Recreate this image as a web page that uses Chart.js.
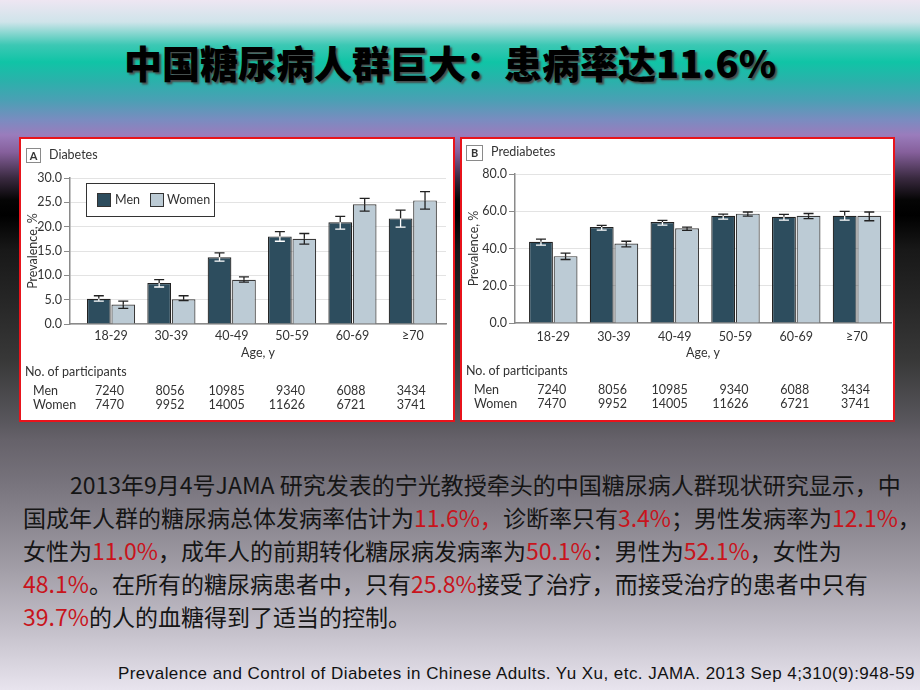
<!DOCTYPE html>
<html>
<head>
<meta charset="utf-8">
<script src="https://cdn.jsdelivr.net/npm/chart.js@4.4.0/dist/chart.umd.min.js"></script>
<style>
html, body { margin: 0; padding: 0; }
body {
    width: 920px; height: 690px; position: relative; overflow: hidden;
    background: linear-gradient(to bottom, #eee6f2 0px, #cfe4ea 22px, #3cc8b4 45px, #10c4a6 62px, #2cb0ab 82px,
        #4aa0b4 100px, #7a8cc0 120px, #9a7cbc 135px, #86609c 152px, #3a2a40 178px, #050505 200px, #000 215px,
        #181818 250px, #262626 300px, #383838 360px, #58565c 420px, #66626a 440px, #76727b 480px,
        #9d99a2 560px, #c4c0ca 630px, #e8e4ee 690px);
    font-family: Lato, sans-serif;
}
.title {
    position: absolute; left: 124px; top: 43px; white-space: nowrap;
    font-family: "Noto Sans CJK SC", sans-serif; font-weight: 900; font-size: 38px; line-height: 38px;
    color: #000; text-shadow: 2px 2px 2px #4a4a4a;
}
.panel { position: absolute; top: 137px; height: 281px; border: 2px solid #e8131b; background: #fff; }
.panel canvas { position: absolute; left: 0; top: 0; }
.tag {
    position: absolute; border: 1px solid #8a8a8a; box-sizing: border-box;
    font-size: 11px; font-weight: 700; color: #333; text-align: center;
}
.ptitle { position: absolute; font-size: 12.5px; color: #333; line-height: 14px; }
.legend {
    position: absolute; left: 65px; top: 44px; width: 129px; height: 34px; box-sizing: border-box;
    border: 1.5px solid #333; background: #fff; font-size: 12.5px; color: #333;
}
.legend .sw { position: absolute; top: 9px; width: 14px; height: 14px; box-sizing: border-box; border: 1px solid #333; }
.legend .lb { position: absolute; top: 8px; line-height: 15px; }
.para {
    position: absolute; left: 23px; top: 468px; white-space: nowrap;
    font-family: "Noto Sans CJK SC", sans-serif; font-size: 23px; line-height: 33px; color: #151515;
}
.para .r { color: #c8141c; }
.cite {
    position: absolute; right: 5px; top: 664px; white-space: nowrap;
    font-family: "Liberation Sans", Arial, sans-serif; font-size: 17px; letter-spacing: 0.45px;
    line-height: 20px; color: #111;
}
</style>
</head>
<body>

<div class="title">中国糖尿病人群巨大：患病率达11.6%</div>

<div class="panel" style="left:19px; width:432px;">
    <canvas id="diab" width="432" height="281"></canvas>
    <div class="tag" style="left:5px; top:9px; width:15px; height:15px; line-height:13px;">A</div>
    <div class="ptitle" style="left:28px; top:9px;">Diabetes</div>
    <div class="legend">
        <div class="sw" style="left:10px; background:#2d4d5e;"></div>
        <div class="lb" style="left:28px;">Men</div>
        <div class="sw" style="left:63px; background:#bccbd5;"></div>
        <div class="lb" style="left:80px;">Women</div>
    </div>
</div>

<div class="panel" style="left:460px; width:431px;">
    <canvas id="prediab" width="431" height="281"></canvas>
    <div class="tag" style="left:4px; top:6px; width:17px; height:16px; line-height:14px;">B</div>
    <div class="ptitle" style="left:29px; top:6px;">Prediabetes</div>
</div>

<div class="para">
    <span style="padding-left:47px"></span>2013年9月4号JAMA 研究发表的宁光教授牵头的中国糖尿病人群现状研究显示，中<br>
    国成年人群的糖尿病总体发病率估计为<span class="r">11.6%，</span>诊断率只有<span class="r">3.4%</span>；男性发病率为<span class="r">12.1%</span>，<br>
    女性为<span class="r">11.0%</span>，成年人的前期转化糖尿病发病率为<span class="r">50.1%</span>：男性为<span class="r">52.1%</span>，女性为<br>
    <span class="r">48.1%</span>。在所有的糖尿病患者中，只有<span class="r">25.8%</span>接受了治疗，而接受治疗的患者中只有<br>
    <span class="r">39.7%</span>的人的血糖得到了适当的控制。
</div>

<div class="cite">Prevalence and Control of Diabetes in Chinese Adults. Yu Xu, etc. JAMA. 2013 Sep 4;310(9):948-59</div>

<script>
const ageGroups = ['18-29', '30-39', '40-49', '50-59', '60-69', '≥70'];
const menCounts = [7240, 8056, 10985, 9340, 6088, 3434];
const womenCounts = [7470, 9952, 14005, 11626, 6721, 3741];

// panel A - diabetes prevalence (%)
const diabMen = [5.2, 8.4, 13.7, 18.0, 20.9, 21.7];
const diabMenLo = [4.7, 7.6, 12.9, 17.0, 19.5, 19.9];
const diabMenHi = [5.8, 9.1, 14.6, 19.0, 22.1, 23.4];
const diabWomen = [4.0, 5.1, 9.1, 17.5, 24.6, 25.4];
const diabWomenLo = [3.2, 4.8, 8.6, 16.4, 23.2, 23.6];
const diabWomenHi = [4.7, 5.8, 9.7, 18.6, 25.8, 27.2];

// panel B - prediabetes prevalence (%)
const preMen = [43.6, 51.5, 54.2, 57.6, 57.0, 57.6];
const preMenLo = [41.8, 49.9, 52.6, 55.8, 55.2, 55.2];
const preMenHi = [45.0, 52.4, 55.1, 58.5, 58.3, 59.9];
const preWomen = [35.9, 42.7, 50.9, 58.7, 57.6, 57.6];
const preWomenLo = [34.1, 40.9, 49.7, 57.4, 56.0, 54.9];
const preWomenHi = [37.5, 43.9, 51.5, 59.6, 58.8, 59.6];

const textColor = '#333';

// whiskers; on the dark bars the part inside the bar is drawn white
const errorBars = {
    id: 'errorBars',
    afterDatasetsDraw(chart) {
        const ctx = chart.ctx;
        const y = chart.scales.y;
        chart.data.datasets.forEach((ds, di) => {
            const meta = chart.getDatasetMeta(di);
            meta.data.forEach((bar, i) => {
                const top = y.getPixelForValue(ds.errHi[i]);
                const bot = y.getPixelForValue(ds.errLo[i]);
                const x = bar.x;
                const w = 5;
                ctx.save();
                ctx.lineWidth = 1.3;
                ctx.strokeStyle = '#222';
                ctx.beginPath();
                ctx.moveTo(x, top); ctx.lineTo(x, Math.min(bar.y, bot));
                ctx.moveTo(x - w, top); ctx.lineTo(x + w, top);
                ctx.stroke();
                ctx.strokeStyle = ds.innerWhisker;
                ctx.beginPath();
                ctx.moveTo(x, bar.y); ctx.lineTo(x, bot);
                ctx.moveTo(x - w, bot); ctx.lineTo(x + w, bot);
                ctx.stroke();
                ctx.restore();
            });
        });
    }
};

// the "No. of participants" table under each panel
const participants = {
    id: 'participants',
    afterDraw(chart) {
        const ctx = chart.ctx;
        const xs = chart.scales.x;
        const b = chart.chartArea.bottom;
        ctx.save();
        ctx.fillStyle = textColor;
        ctx.textBaseline = 'middle';
        ctx.font = '12.5px Lato';
        ctx.textAlign = 'left';
        ctx.fillText('No. of participants', 4, b + 48);
        ctx.fillText('Men', 12, b + 67);
        ctx.fillText('Women', 12, b + 81);
        ctx.textAlign = 'right';
        ageGroups.forEach((g, i) => {
            const px = xs.getPixelForValue(i) + 13;
            ctx.fillText(String(menCounts[i]), px, b + 67);
            ctx.fillText(String(womenCounts[i]), px, b + 81);
        });
        ctx.restore();
    }
};

function makePanel(id, men, menLo, menHi, women, womenLo, womenHi, yMax, yStep, lay) {
    const ctx = document.getElementById(id).getContext('2d');
    return new Chart(ctx, {
        type: 'bar',
        data: {
            datasets: [{
                label: 'Men',
                data: men.map((v, i) => ({ x: i, y: v })),
                errLo: menLo, errHi: menHi,
                innerWhisker: '#ffffff',
                backgroundColor: '#2d4d5e',
                borderColor: '#222',
                borderWidth: 1.2,
                categoryPercentage: 0.81,
                barPercentage: 0.97
            }, {
                label: 'Women',
                data: women.map((v, i) => ({ x: i, y: v })),
                errLo: womenLo, errHi: womenHi,
                innerWhisker: '#222',
                backgroundColor: '#bccbd5',
                borderColor: '#3a3a3a',
                borderWidth: 1.2,
                categoryPercentage: 0.81,
                barPercentage: 0.97
            }]
        },
        options: {
            responsive: false,
            animation: false,
            layout: { padding: { left: 0, right: lay.right, top: lay.top, bottom: lay.bottom } },
            plugins: {
                legend: { display: false },
                title: { display: false },
                tooltip: { enabled: false }
            },
            scales: {
                x: {
                    type: 'linear',
                    offset: false,
                    min: lay.xMin,
                    max: lay.xMax,
                    afterFit: s => { s.height = lay.xHeight; },
                    afterBuildTicks: s => { s.ticks = ageGroups.map((g, i) => ({ value: i })); },
                    grid: { display: false, drawTicks: false },
                    border: { display: true, color: '#8a8a8a', width: 1.5 },
                    ticks: {
                        autoSkip: false,
                        maxRotation: 0,
                        padding: lay.xPad,
                        color: textColor,
                        font: { family: 'Lato', size: 12.5 },
                        callback: v => ageGroups[v]
                    },
                    title: {
                        display: true,
                        text: 'Age, y',
                        color: textColor,
                        font: { family: 'Lato', size: 12.5 },
                        padding: 4
                    }
                },
                y: {
                    min: 0,
                    max: yMax,
                    afterFit: s => { s.width = lay.yWidth; },
                    grid: { color: '#e3e3e3', tickColor: '#8a8a8a', tickLength: 6, lineWidth: 1 },
                    border: { display: true, color: '#8a8a8a', width: 1.5 },
                    ticks: {
                        stepSize: yStep,
                        padding: 2,
                        color: textColor,
                        font: { family: 'Lato', size: 12.5 },
                        callback: v => v.toFixed(1)
                    },
                    title: {
                        display: true,
                        text: 'Prevalence, %',
                        color: textColor,
                        font: { family: 'Lato', size: 12.5 },
                        padding: 4
                    }
                }
            }
        },
        plugins: [errorBars, participants]
    });
}

makePanel('diab', diabMen, diabMenLo, diabMenHi, diabWomen, diabWomenLo, diabWomenHi, 30, 5,
    { right: 7, top: 39, bottom: 55.5, xHeight: 40.5, yWidth: 49, xPad: 4, xMin: -0.68, xMax: 5.55 });
makePanel('prediab', preMen, preMenLo, preMenHi, preWomen, preWomenLo, preWomenHi, 80, 20,
    { right: 2, top: 35, bottom: 56, xHeight: 41, yWidth: 53, xPad: 6, xMin: -0.63, xMax: 5.56 });
</script>
</body>
</html>
